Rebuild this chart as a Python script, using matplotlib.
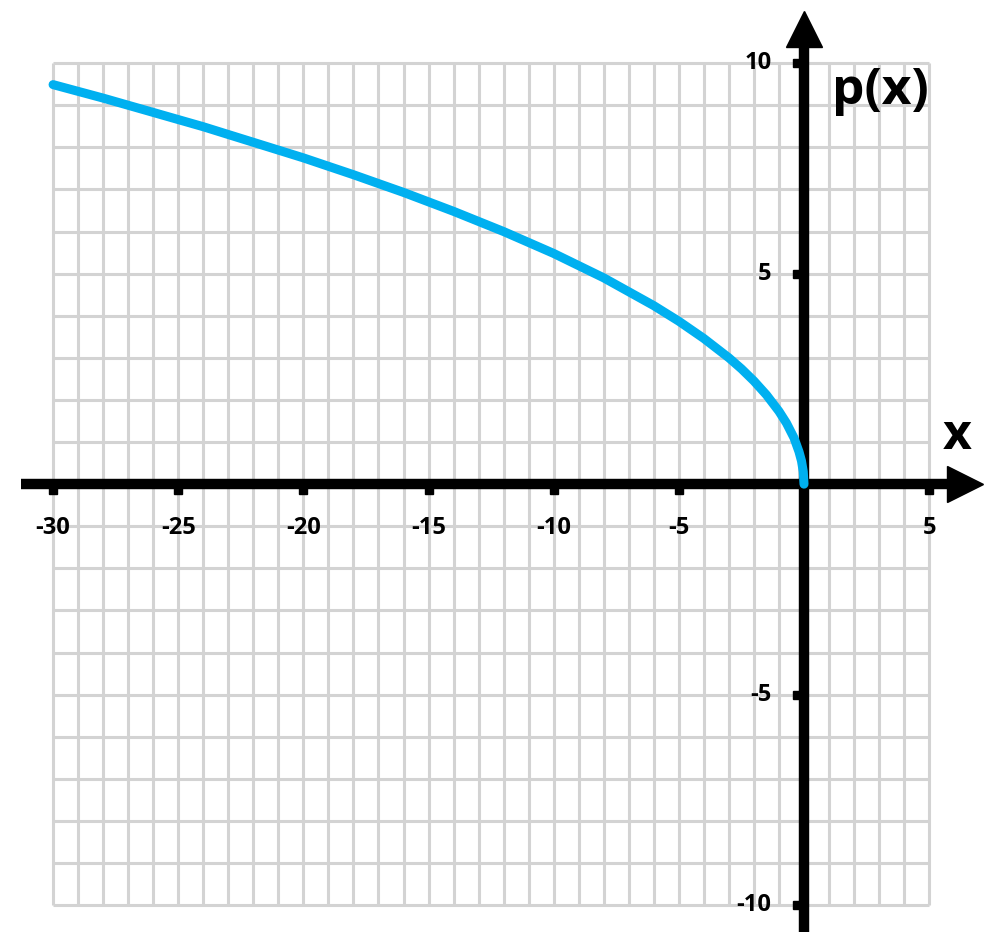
import matplotlib.pyplot as plt

plt.rcParams['font.family'] = ['Open Sans', 'DejaVu Sans']

# curve p(x)
xs = [-30, -28, -26, -24, -22, -20, -18, -16, -14, -12, -10, -8, -6, -5, -4,
      -3, -2.5, -2, -1.5, -1, -0.7, -0.4, -0.2, -0.1, -0.03, 0]
ys = [9.49, 9.17, 8.83, 8.49, 8.12, 7.75, 7.35, 6.93, 6.48, 6.0, 5.48, 4.9,
      4.24, 3.87, 3.46, 3.0, 2.74, 2.45, 2.12, 1.73, 1.45, 1.1, 0.77, 0.55, 0.3, 0]

grid_x = list(range(-30, 6))
grid_y = list(range(-10, 11))
xticks = [-30, -25, -20, -15, -10, -5, 5]
yticks = [10, 5, -5, -10]

fig = plt.figure(figsize=(10, 9.46), dpi=100)
ax = fig.add_axes([0, 0, 1, 1])
ax.set_xlim(-32.12, 7.83)
ax.set_ylim(-10.97, 11.50)
ax.axis('off')

# grid
ax.vlines(grid_x, -10, 10, color='#d3d3d3', lw=2.2, zorder=1)
ax.hlines(grid_y, -30, 5, color='#d3d3d3', lw=2.2, zorder=1)

# axes with arrows
ax.plot([-31.3, 6.0], [0, 0], color='black', lw=7.5, solid_capstyle='butt', zorder=3)
ax.plot([0, 0], [-10.64, 10.6], color='black', lw=7.5, solid_capstyle='butt', zorder=3)
ax.plot(6.45, 0, marker='>', color='black', markersize=26, zorder=4)
ax.plot(0, 10.8, marker='^', color='black', markersize=26, zorder=4)

# tick marks
ax.plot(xticks, [-0.15] * len(xticks), 's', color='black', markersize=6, zorder=3)
ax.plot([-0.27] * len(yticks), yticks, 's', color='black', markersize=6, zorder=3)

# tick labels
for t in xticks:
    ax.text(t, -1.03, str(t), ha='center', va='center', fontsize=17, fontweight='bold')
for t in yticks:
    ax.text(-1.3, t, str(t), ha='right', va='center', fontsize=17, fontweight='bold')

# curve
ax.plot(xs, ys, color='#00b0f0', lw=6.5, solid_capstyle='round', zorder=5)

# axis names
ax.text(1.1, 9.35, 'p(x)', fontsize=37, fontweight='bold', ha='left', va='center')
ax.text(6.1, 1.15, 'x', fontsize=36, fontweight='bold', ha='center', va='center')

plt.savefig('out.png')
